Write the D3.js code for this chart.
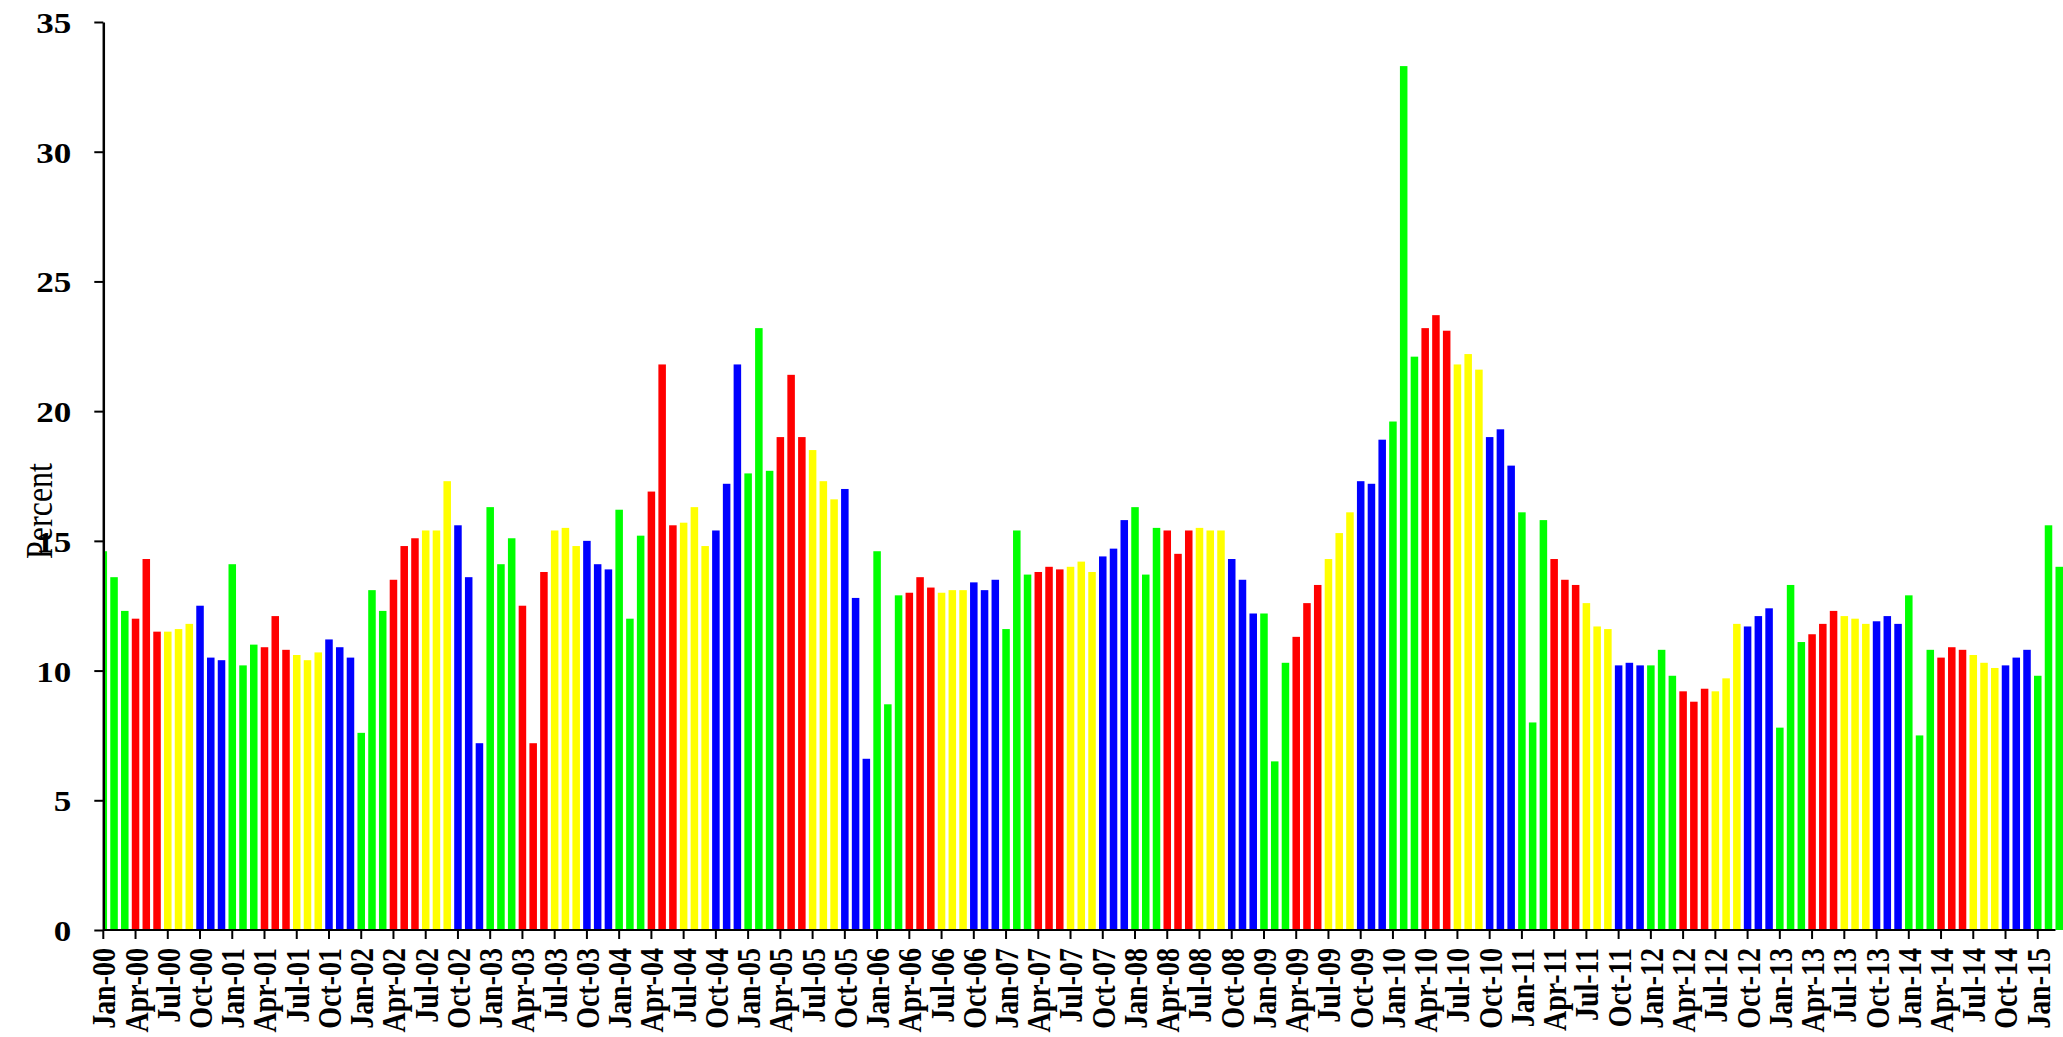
<!DOCTYPE html>
<html>
<head>
<meta charset="utf-8">
<script src="https://cdn.jsdelivr.net/npm/d3@7"></script>
<style>
  body { margin: 0; background: #fff; }
</style>
</head>
<body>
<div id="dataviz"></div>
<script>
// month names used for the category labels
var monthNames = ["Jan","Feb","Mar","Apr","May","Jun","Jul","Aug","Sep","Oct","Nov","Dec"];

// monthly values, Jan-00 .. Mar-15
var rates = [
  14.6, 13.6, 12.3, 12.0, 14.3, 11.5, 11.5, 11.6, 11.8, 12.5, 10.5, 10.4,
  14.1, 10.2, 11.0, 10.9, 12.1, 10.8, 10.6, 10.4, 10.7, 11.2, 10.9, 10.5,
  7.6, 13.1, 12.3, 13.5, 14.8, 15.1, 15.4, 15.4, 17.3, 15.6, 13.6, 7.2,
  16.3, 14.1, 15.1, 12.5, 7.2, 13.8, 15.4, 15.5, 14.8, 15.0, 14.1, 13.9,
  16.2, 12.0, 15.2, 16.9, 21.8, 15.6, 15.7, 16.3, 14.8, 15.4, 17.2, 21.8,
  17.6, 23.2, 17.7, 19.0, 21.4, 19.0, 18.5, 17.3, 16.6, 17.0, 12.8, 6.6,
  14.6, 8.7, 12.9, 13.0, 13.6, 13.2, 13.0, 13.1, 13.1, 13.4, 13.1, 13.5,
  11.6, 15.4, 13.7, 13.8, 14.0, 13.9, 14.0, 14.2, 13.8, 14.4, 14.7, 15.8,
  16.3, 13.7, 15.5, 15.4, 14.5, 15.4, 15.5, 15.4, 15.4, 14.3, 13.5, 12.2,
  12.2, 6.5, 10.3, 11.3, 12.6, 13.3, 14.3, 15.3, 16.1, 17.3, 17.2, 18.9,
  19.6, 33.3, 22.1, 23.2, 23.7, 23.1, 21.8, 22.2, 21.6, 19.0, 19.3, 17.9,
  16.1, 8.0, 15.8, 14.3, 13.5, 13.3, 12.6, 11.7, 11.6, 10.2, 10.3, 10.2,
  10.2, 10.8, 9.8, 9.2, 8.8, 9.3, 9.2, 9.7, 11.8, 11.7, 12.1, 12.4,
  7.8, 13.3, 11.1, 11.4, 11.8, 12.3, 12.1, 12.0, 11.8, 11.9, 12.1, 11.8,
  12.9, 7.5, 10.8, 10.5, 10.9, 10.8, 10.6, 10.3, 10.1, 10.2, 10.5, 10.8,
  9.8, 15.6, 14.0
];

// one colour per quarter
var quarterColors = ["#00ff00", "#ff0000", "#ffff00", "#0000ff"];

var yTicks = [0, 5, 10, 15, 20, 25, 30, 35];

var months = rates.map(function (v, i) {
  var yy = Math.floor(i / 12);
  return monthNames[i % 12] + "-" + (yy < 10 ? "0" + yy : "" + yy);
});
var data = rates.map(function (v, i) {
  return {month: months[i], value: v, color: quarterColors[Math.floor((i % 12) / 3)]};
});

var width = 2063, height = 1037;
var plotLeft = 103.3, plotBottom = 930, plotTop = 22;
var step = 10.747;
var stretch = 1.17;   // the text in the picture is drawn a bit wide

var svg = d3.select("#dataviz")
  .append("svg")
    .attr("width", width)
    .attr("height", height);

var x = d3.scaleBand()
    .domain(months)
    .range([plotLeft - step / 2, plotLeft - step / 2 + step * months.length])
    .paddingInner(0.3)
    .paddingOuter(0.15);

var y = d3.scaleLinear()
    .domain([0, 35])
    .range([plotBottom, plotTop]);

svg.append("clipPath")
    .attr("id", "plot")
  .append("rect")
    .attr("x", plotLeft)
    .attr("y", 0)
    .attr("width", width - plotLeft)
    .attr("height", plotBottom);

// bars
svg.append("g")
    .attr("clip-path", "url(#plot)")
  .selectAll("rect")
  .data(data)
  .enter()
  .append("rect")
    .attr("x", function (d) { return x(d.month); })
    .attr("y", function (d) { return y(d.value); })
    .attr("width", x.bandwidth())
    .attr("height", function (d) { return plotBottom - y(d.value); })
    .style("fill", function (d) { return d.color; });

// X axis, one label per quarter
var xAxis = svg.append("g")
    .attr("transform", "translate(0," + plotBottom + ")")
    .call(d3.axisBottom(x)
      .tickValues(months.filter(function (m, i) { return i % 3 == 0; }))
      .tickSize(9)
      .tickSizeOuter(0));
xAxis.select(".domain").remove();
xAxis.selectAll(".tick line")
    .attr("stroke", "#000")
    .attr("stroke-width", 2);
xAxis.selectAll(".tick text")
    .attr("x", 0)
    .attr("y", 0)
    .attr("dy", "0.35em")
    .attr("transform", "translate(0,18) scale(" + (stretch + 0.05) + ",1) rotate(-90)")
    .style("text-anchor", "end")
    .style("font-family", "'Liberation Serif', 'Times New Roman', serif")
    .style("font-weight", "bold")
    .style("font-size", "28px")
    .style("fill", "#000");

svg.append("line")
    .attr("x1", plotLeft)
    .attr("x2", x(months[months.length - 1]))
    .attr("y1", plotBottom)
    .attr("y2", plotBottom)
    .attr("stroke", "#000")
    .attr("stroke-width", 2);

// Y axis
var yAxis = svg.append("g")
    .attr("transform", "translate(" + plotLeft + ",0)")
    .call(d3.axisLeft(y).tickValues(yTicks).tickSize(9).tickSizeOuter(0));
yAxis.select(".domain")
    .attr("stroke", "#000")
    .attr("stroke-width", 2.5);
yAxis.selectAll(".tick line")
    .attr("stroke", "#000")
    .attr("stroke-width", 2);
yAxis.selectAll(".tick text")
    .attr("x", 0)
    .attr("dy", "0.35em")
    .attr("transform", "translate(-32,0) scale(" + stretch + ",1)")
    .style("text-anchor", "end")
    .style("font-family", "'Liberation Serif', 'Times New Roman', serif")
    .style("font-weight", "bold")
    .style("font-size", "30px")
    .style("fill", "#000");

svg.append("text")
    .attr("transform", "translate(52,511) scale(" + stretch + ",1) rotate(-90)")
    .style("text-anchor", "middle")
    .style("font-family", "'Liberation Serif', 'Times New Roman', serif")
    .style("font-size", "32px")
    .text("Percent");
</script>
</body>
</html>
